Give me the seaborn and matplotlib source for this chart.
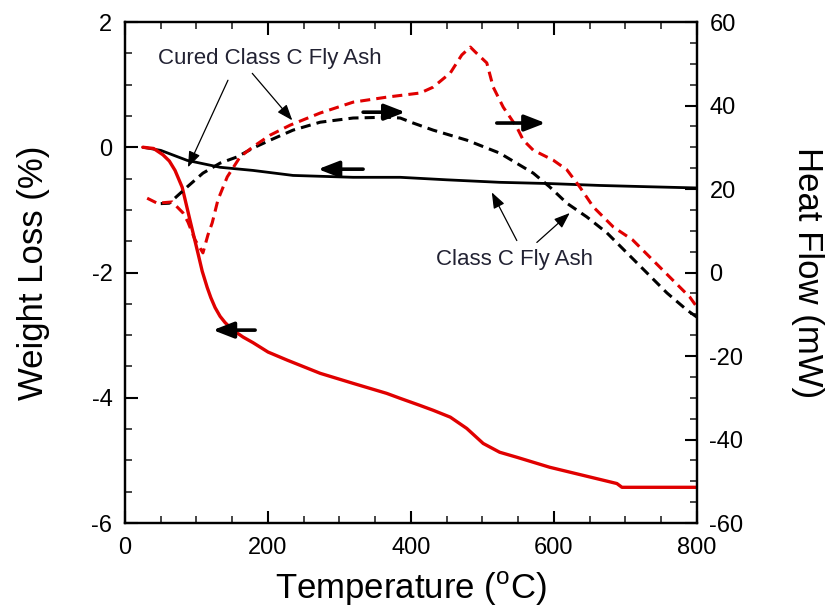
import numpy as np
import pandas as pd
import matplotlib
matplotlib.use("Agg")
import matplotlib.pyplot as plt
from matplotlib.ticker import MultipleLocator
import seaborn as sns

# ---- data ----
# Weight loss, cured Class C fly ash (red solid, left axis)
t_wl_cured = [25, 40, 53, 62, 70, 80, 91, 102, 108, 115, 120, 126, 133, 140, 151, 165,
              179, 200, 227, 273, 319, 366, 385, 412, 431, 455, 478, 501, 524, 548, 594,
              641, 688, 695, 730, 800]
wl_cured = [0.0, -0.02, -0.12, -0.22, -0.37, -0.64, -1.17, -1.69, -1.98, -2.24, -2.40,
            -2.56, -2.70, -2.80, -2.92, -3.03, -3.12, -3.27, -3.40, -3.61, -3.77, -3.93,
            -4.01, -4.12, -4.20, -4.31, -4.49, -4.73, -4.87, -4.95, -5.11, -5.24, -5.37,
            -5.43, -5.43, -5.43]

# Weight loss, Class C fly ash (black solid, left axis)
t_wl_class = [25, 50, 87, 133, 179, 235, 319, 385, 450, 524, 594, 664, 730, 800]
wl_class = [0.0, -0.05, -0.21, -0.32, -0.37, -0.45, -0.48, -0.48, -0.52, -0.56, -0.58,
            -0.61, -0.63, -0.65]

# Heat flow, cured Class C fly ash (red dashed, right axis)
t_hf_cured = [31, 45, 66, 81, 88, 98, 109, 116, 122, 130, 143, 161, 179, 203, 231, 273,
              319, 366, 413, 431, 455, 471, 483, 490, 506, 515, 529, 548, 557, 571, 599,
              618, 636, 655, 683, 710, 738, 766, 790, 800]
hf_cured = [17.8, 16.6, 16.9, 14.3, 12.1, 7.8, 4.7, 9.0, 11.9, 17.4, 22.9, 27.7, 30.1,
            32.9, 35.3, 38.2, 40.8, 42.0, 43.0, 44.4, 47.8, 52.1, 54.0, 52.8, 50.2, 44.4,
            39.6, 34.8, 31.7, 29.3, 26.9, 24.6, 20.5, 15.7, 10.9, 7.8, 3.0, -1.8, -5.9, -8.3]

# Heat flow, Class C fly ash (black dashed, right axis)
t_hf_class = [50, 62, 87, 109, 133, 157, 179, 203, 235, 273, 319, 366, 385, 403, 431,
              478, 524, 571, 594, 618, 646, 674, 702, 730, 758, 786, 800]
hf_class = [16.5, 16.6, 20.5, 23.8, 26.2, 27.7, 29.8, 31.7, 34.1, 36.0, 37.0, 37.2, 37.0,
            35.8, 34.1, 31.7, 28.6, 23.8, 20.5, 16.6, 13.3, 9.5, 4.7, -0.1, -4.9, -9.0, -10.7]

# Axis-indicator arrows: (tail, head) in data coords
arrows_left = [((182, -2.92), (123, -2.92)), ((333, -0.35), (270, -0.35))]
arrows_right = [((333, 38.4), (392, 38.4)), ((520, 35.8), (588, 35.8))]

# Labels with pointer lines (left-axis coords)
label_cured = "Cured Class C Fly Ash"
label_cured_pos = (203, 1.42)
pointers_cured = [((144, 1.07), (88, -0.32)), ((178, 1.18), (234, 0.43))]
label_class = "Class C Fly Ash"
label_class_pos = (545, -1.80)
pointers_class = [((548, -1.49), (513, -0.72)), ((576, -1.52), (622, -1.05))]

# ---- styling ----
sns.set_style("ticks")
plt.rcParams["font.family"] = ["Liberation Sans", "DejaVu Sans"]
plt.rcParams["mathtext.fontset"] = "custom"
plt.rcParams["mathtext.rm"] = "Liberation Sans"
plt.rcParams["axes.unicode_minus"] = False
plt.rcParams["text.color"] = "black"
plt.rcParams["axes.labelcolor"] = "black"

fig = plt.figure(figsize=(8.28, 6.15), dpi=100)
ax1 = fig.add_axes([125 / 828, 1 - 523 / 615, (697 - 125) / 828, (523 - 22) / 615])
ax2 = ax1.twinx()

RED = "#e00000"

df_wc = pd.DataFrame({"T": t_wl_cured, "v": wl_cured})
df_wk = pd.DataFrame({"T": t_wl_class, "v": wl_class})
df_hc = pd.DataFrame({"T": t_hf_cured, "v": hf_cured})
df_hk = pd.DataFrame({"T": t_hf_class, "v": hf_class})

sns.lineplot(data=df_wk, x="T", y="v", ax=ax1, color="black", lw=2.0, sort=False,
             estimator=None)
sns.lineplot(data=df_wc, x="T", y="v", ax=ax1, color=RED, lw=2.4, sort=False,
             estimator=None)
sns.lineplot(data=df_hk, x="T", y="v", ax=ax2, color="black", lw=2.2, sort=False,
             estimator=None, linestyle=(0, (3.3, 2.0)))
sns.lineplot(data=df_hc, x="T", y="v", ax=ax2, color=RED, lw=2.2, sort=False,
             estimator=None, linestyle=(0, (3.3, 2.0)))

ax1.set_xlim(0, 800)
ax1.set_ylim(-6, 2)
ax2.set_ylim(-60, 60)

ax1.xaxis.set_major_locator(MultipleLocator(200))
ax1.xaxis.set_minor_locator(MultipleLocator(50))
ax1.yaxis.set_major_locator(MultipleLocator(2))
ax1.yaxis.set_minor_locator(MultipleLocator(0.5))
ax2.yaxis.set_major_locator(MultipleLocator(20))
ax2.yaxis.set_minor_locator(MultipleLocator(5))

for ax in (ax1, ax2):
    ax.tick_params(which="major", direction="in", length=9, width=1.5, labelsize=17,
                   colors="black")
    ax.tick_params(which="minor", direction="in", length=5, width=1.2)
    for s in ax.spines.values():
        s.set_linewidth(1.6)
        s.set_color("black")
ax1.tick_params(axis="x", which="both", top=True, pad=10)
ax1.tick_params(axis="y", which="both", left=True, right=False, pad=9)
ax2.tick_params(axis="y", which="both", right=True, left=False, pad=9)

ax1.set_xlabel(r"Temperature ($^{\mathrm{o}}$C)", fontsize=25, labelpad=8)
ax1.set_ylabel("Weight Loss (%)", fontsize=25, labelpad=30)
ax2.set_ylabel("Heat Flow (mW)", fontsize=25, rotation=270, labelpad=58)

# axis-indicator arrows
for tail, head in arrows_left:
    ax1.annotate("", xy=head, xytext=tail,
                 arrowprops=dict(arrowstyle="-|>,head_length=0.9,head_width=0.35",
                                 lw=2.6, color="black", mutation_scale=14,
                                 shrinkA=0, shrinkB=0))
for tail, head in arrows_right:
    ax2.annotate("", xy=head, xytext=tail,
                 arrowprops=dict(arrowstyle="-|>,head_length=0.9,head_width=0.35",
                                 lw=2.6, color="black", mutation_scale=14,
                                 shrinkA=0, shrinkB=0))

# labels and pointers
ax1.text(*label_cured_pos, label_cured, fontsize=16, ha="center", va="center",
         color="#222233")
ax1.text(*label_class_pos, label_class, fontsize=16, ha="center", va="center",
         color="#222233")
for tail, head in pointers_cured + pointers_class:
    ax1.annotate("", xy=head, xytext=tail,
                 arrowprops=dict(arrowstyle="-|>,head_length=0.8,head_width=0.3",
                                 lw=0.9, color="black", mutation_scale=12,
                                 shrinkA=0, shrinkB=0))

fig.savefig("out.png", dpi=100)
